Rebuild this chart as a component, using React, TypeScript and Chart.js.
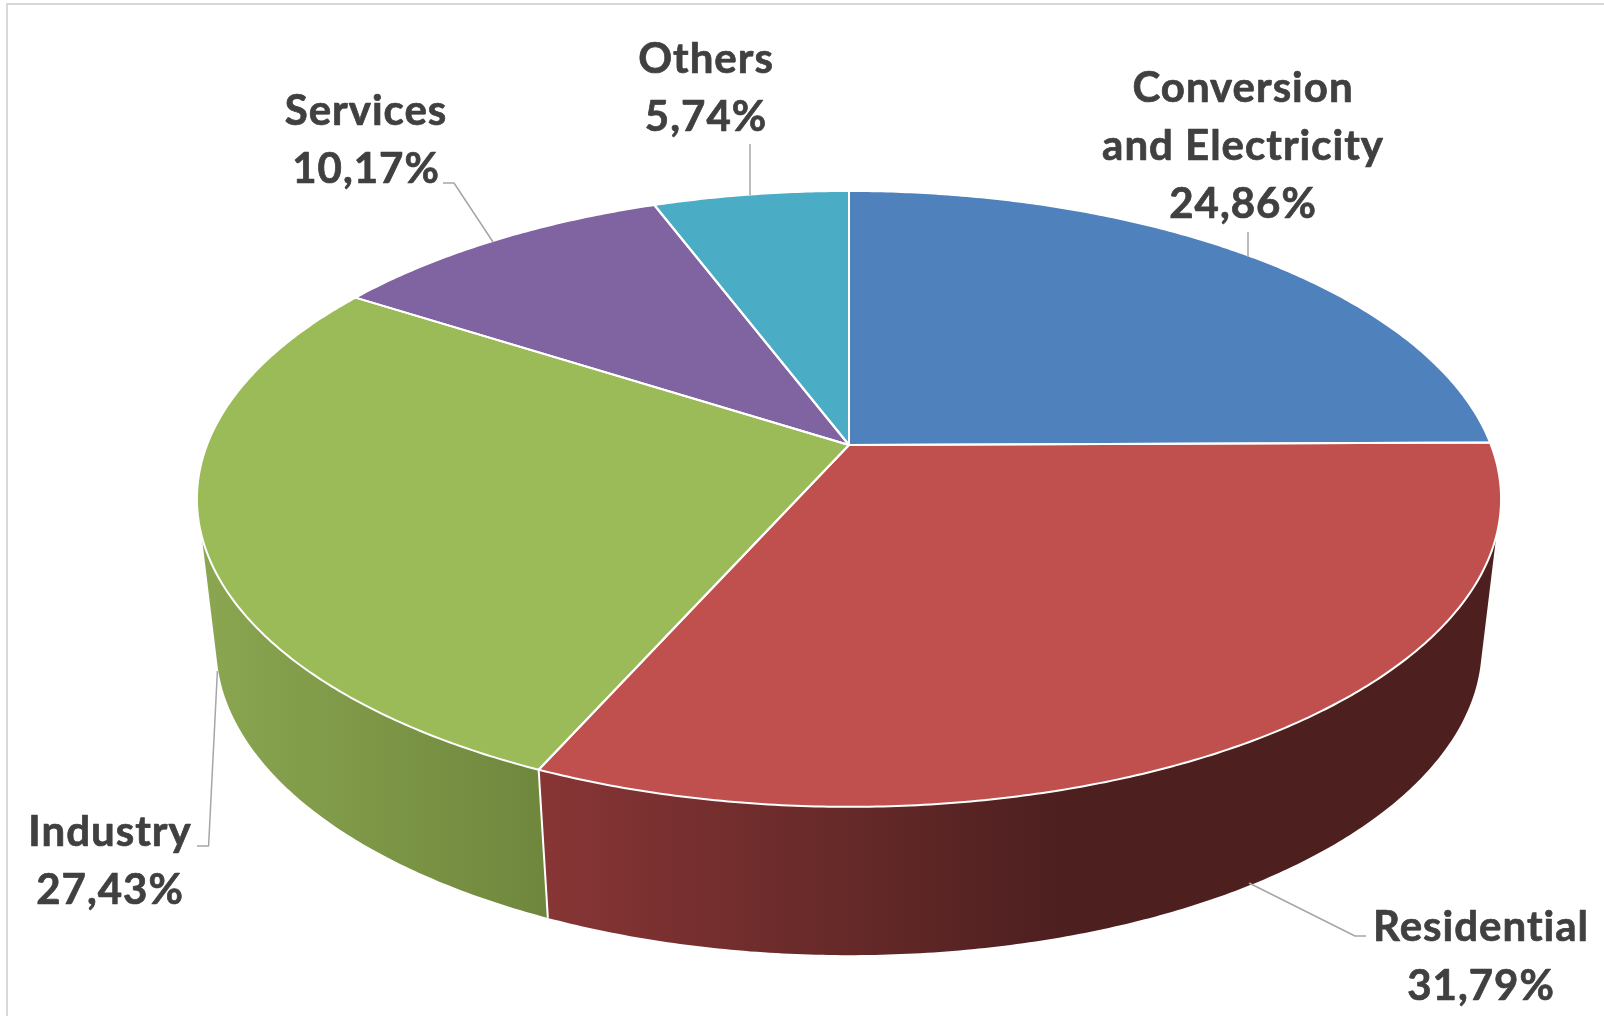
import React, { useEffect, useRef } from "react";
import { Chart, registerables } from "chart.js";

Chart.register(...registerables);

const categories = ["Conversion\nand Electricity", "Residential", "Industry", "Services", "Others"];
const shares = [24.86, 31.79, 27.43, 10.17, 5.74];
const topColors = ["#4F81BD", "#C0504D", "#9BBB59", "#8064A2", "#4BACC6"];

// Perspective of the disc: the same circle seen on its upper and lower face.
const K = 0.175;
const TOP = { cx: 849, cy: 445, r: 642, s: 298.5, rimFrom: Math.asin(0.29) };
const BOTTOM = { cx: 849, cy: 592, r: 623, s: 299.6, rimFrom: Math.asin(0.23) };

const project = (p: any, a: number) => {
  const w = 1 - K * Math.sin(a);
  return [p.cx + (p.r * Math.cos(a)) / w, p.cy + (p.s * Math.sin(a)) / w];
};

const sideGradients: Record<number, any> = {
  1: { x0: 540, x1: 1060, stops: [[0, "#883535"], [0.7, "#5f2726"], [1, "#4d1f1f"]] },
  2: { x0: 205, x1: 545, stops: [[0, "#8AA650"], [1, "#6F873D"]] },
};

const labelBoxes = [
  { x: 1243, y: 102, gap: 58 },
  { x: 1481, y: 941, gap: 59 },
  { x: 110, y: 846, gap: 58 },
  { x: 366, y: 125, gap: 58 },
  { x: 706, y: 73, gap: 58 },
];
const leaders = [
  [[1248, 232], [1248, 257]],
  [[1366, 936], [1355, 936], [1249, 883]],
  [[197, 846], [208.6, 846], [217.4, 671]],
  [[443, 183], [454, 183], [493, 242]],
  [[750, 144], [750, 195]],
];

const pie3d = {
  id: "pie3d",
  beforeDatasetsDraw(chart: any) {
    const ctx = chart.ctx;
    const arcs = chart.getDatasetMeta(0).data;
    const STEP = Math.PI / 360;

    const trace = (p: any, a0: number, a1: number, first: boolean) => {
      const n = Math.max(2, Math.ceil(Math.abs(a1 - a0) / STEP));
      for (let i = 0; i <= n; i++) {
        const [x, y] = project(p, a0 + ((a1 - a0) * i) / n);
        if (i === 0 && first) ctx.moveTo(x, y);
        else ctx.lineTo(x, y);
      }
    };
    const clip = (p: any, arc: any) => [
      Math.max(arc.startAngle, p.rimFrom),
      Math.min(arc.endAngle, Math.PI - p.rimFrom),
    ];

    ctx.save();
    // Chart frame
    ctx.strokeStyle = "#D9D9D9";
    ctx.lineWidth = 2;
    ctx.beginPath();
    ctx.moveTo(7, 1016);
    ctx.lineTo(7, 4);
    ctx.lineTo(1604, 4);
    ctx.stroke();

    // Rim, back to front
    [2, 1].forEach((i) => {
      const [t0, t1] = clip(TOP, arcs[i]);
      const [b0, b1] = clip(BOTTOM, arcs[i]);
      if (t1 <= t0 || b1 <= b0) return;
      const g = sideGradients[i];
      const grad = ctx.createLinearGradient(g.x0, 0, g.x1, 0);
      g.stops.forEach((s: any) => grad.addColorStop(s[0], s[1]));
      ctx.fillStyle = grad;
      ctx.beginPath();
      trace(TOP, t0, t1, true);
      trace(BOTTOM, b1, b0, false);
      ctx.closePath();
      ctx.fill();
    });
    // Seam between the two visible rim pieces
    const seam = arcs[1].endAngle;
    const s0 = project(TOP, seam);
    const s1 = project(BOTTOM, seam);
    ctx.strokeStyle = "#FFFFFF";
    ctx.lineWidth = 2;
    ctx.beginPath();
    ctx.moveTo(s0[0], s0[1]);
    ctx.lineTo(s1[0], s1[1]);
    ctx.stroke();

    // Top face
    arcs.forEach((arc: any, i: number) => {
      ctx.beginPath();
      ctx.moveTo(TOP.cx, TOP.cy);
      trace(TOP, arc.startAngle, arc.endAngle, false);
      ctx.closePath();
      ctx.fillStyle = topColors[i];
      ctx.fill();
    });
    arcs.forEach((arc: any) => {
      ctx.beginPath();
      ctx.moveTo(TOP.cx, TOP.cy);
      trace(TOP, arc.startAngle, arc.endAngle, false);
      ctx.closePath();
      ctx.strokeStyle = "#FFFFFF";
      ctx.lineWidth = 2;
      ctx.lineJoin = "round";
      ctx.stroke();
    });

    // Leader lines
    ctx.strokeStyle = "#A6A6A6";
    ctx.lineWidth = 1.5;
    leaders.forEach((pts) => {
      ctx.beginPath();
      pts.forEach((p, j) => (j ? ctx.lineTo(p[0], p[1]) : ctx.moveTo(p[0], p[1])));
      ctx.stroke();
    });

    // Data labels
    ctx.fillStyle = "#404040";
    ctx.strokeStyle = "#404040";
    ctx.lineWidth = 0.7;
    ctx.lineJoin = "round";
    ctx.font = "bold 42px Lato";
    ctx.letterSpacing = "1px";
    ctx.textAlign = "center";
    ctx.textBaseline = "alphabetic";
    categories.forEach((c, i) => {
      const lines = [...c.split("\n"), shares[i].toFixed(2).replace(".", ",") + "%"];
      lines.forEach((t, j) => {
        const y = labelBoxes[i].y + j * labelBoxes[i].gap;
        ctx.fillText(t, labelBoxes[i].x, y);
        ctx.strokeText(t, labelBoxes[i].x, y);
      });
    });
    ctx.restore();
    return false;
  },
};

export default function App() {
  const ref = useRef<HTMLCanvasElement>(null);
  useEffect(() => {
    const chart = new Chart(ref.current as HTMLCanvasElement, {
      type: "pie",
      data: {
        labels: categories.map((c) => c.replace("\n", " ")),
        datasets: [{ data: shares, backgroundColor: topColors, borderColor: "#FFFFFF" }],
      },
      options: {
        responsive: false,
        animation: false,
        plugins: { legend: { display: false }, tooltip: { enabled: false } },
      },
      plugins: [pie3d],
    } as any);
    return () => chart.destroy();
  }, []);
  return (
    <canvas
      ref={ref}
      width={1604}
      height={1016}
      style={{ position: "fixed", left: 0, top: 0, display: "block", background: "#FFFFFF" }}
    />
  );
}
